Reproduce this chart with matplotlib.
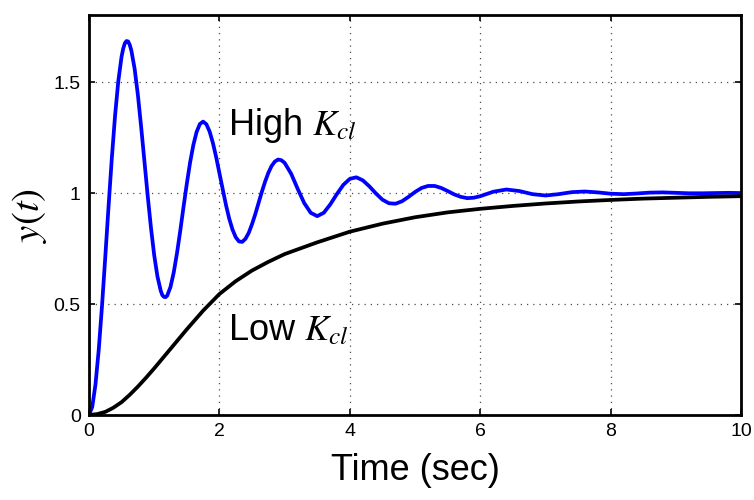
"""Step responses for high and low closed-loop gain K_cl."""
import matplotlib
matplotlib.use("Agg")
import matplotlib.pyplot as plt

plt.rcParams["font.family"] = ["Liberation Sans", "DejaVu Sans"]
plt.rcParams["mathtext.fontset"] = "stix"

# high-gain response (blue)
t_high = [0.00, 0.05, 0.10, 0.15, 0.20, 0.25, 0.30, 0.35, 0.40, 0.45,
          0.50, 0.525, 0.55, 0.575, 0.60, 0.625, 0.65, 0.70, 0.75, 0.80,
          0.85, 0.90, 0.95, 1.00, 1.05, 1.10, 1.125, 1.15, 1.175, 1.20,
          1.25, 1.30, 1.35, 1.40, 1.45,
          1.50, 1.55, 1.60, 1.65, 1.70, 1.75, 1.80, 1.85, 1.90, 1.95,
          2.00, 2.05, 2.10, 2.15, 2.20, 2.25, 2.30, 2.35, 2.40, 2.45,
          2.50, 2.55, 2.60, 2.65, 2.70, 2.75, 2.80, 2.85, 2.90, 2.95,
          3.00, 3.10, 3.20, 3.30, 3.40, 3.50, 3.60, 3.70, 3.80, 3.90,
          4.00, 4.10, 4.20, 4.30, 4.40, 4.50, 4.60, 4.70, 4.80, 4.90,
          5.00, 5.10, 5.20, 5.30, 5.40, 5.50, 5.60, 5.70, 5.80, 5.90,
          6.00, 6.20, 6.40, 6.60, 6.80, 7.00, 7.20, 7.40, 7.60, 7.80,
          8.00, 8.20, 8.40, 8.60, 8.80, 9.00, 9.20, 9.40, 9.60, 9.80,
          10.00]
y_high = [0.000, 0.036, 0.138, 0.295, 0.492, 0.712, 0.939, 1.156, 1.349, 1.505,
          1.615, 1.651, 1.675, 1.685, 1.683, 1.668, 1.642, 1.560, 1.442, 1.298,
          1.144, 0.989, 0.845, 0.720, 0.624, 0.560, 0.540, 0.532, 0.531, 0.538,
          0.577, 0.643, 0.730, 0.831, 0.938,
          1.042, 1.137, 1.216, 1.275, 1.311, 1.322, 1.310, 1.277, 1.226, 1.162,
          1.090, 1.018, 0.947, 0.885, 0.836, 0.801, 0.782, 0.780, 0.794, 0.821,
          0.860, 0.905, 0.955, 1.005, 1.051, 1.091, 1.122, 1.142, 1.151, 1.148,
          1.136, 1.087, 1.019, 0.955, 0.911, 0.896, 0.911, 0.949, 0.995, 1.037,
          1.064, 1.071, 1.057, 1.030, 0.998, 0.970, 0.954, 0.952, 0.963, 0.983,
          1.005, 1.023, 1.032, 1.032, 1.023, 1.009, 0.994, 0.983, 0.977, 0.979,
          0.986, 1.006, 1.016, 1.009, 0.995, 0.989, 0.995, 1.004, 1.007, 1.003,
          0.997, 0.995, 0.998, 1.002, 1.003, 1.001, 0.999, 0.999, 1.000, 1.001,
          1.000]

# low-gain response (black)
t_low = [0.000, 0.125, 0.25, 0.375, 0.50, 0.625, 0.75, 0.875, 1.00, 1.125,
         1.25, 1.375, 1.50, 1.75, 2.00, 2.25, 2.50, 2.75, 3.00, 3.50,
         4.00, 4.50, 5.00, 5.50, 6.00, 6.50, 7.00, 7.50, 8.00, 8.50,
         9.00, 9.50, 10.00]
y_low = [0.000, 0.004, 0.014, 0.033, 0.058, 0.091, 0.128, 0.168, 0.210, 0.254,
         0.298, 0.342, 0.386, 0.470, 0.545, 0.603, 0.651, 0.690, 0.725, 0.778,
         0.826, 0.862, 0.891, 0.913, 0.929, 0.942, 0.953, 0.962, 0.969, 0.975,
         0.979, 0.983, 0.986]

x_ticks = [0, 2, 4, 6, 8, 10]
y_ticks = [0, 0.5, 1, 1.5]
y_tick_labels = ["0", "0.5", "1", "1.5"]

fig = plt.figure(figsize=(7.54, 5.0), dpi=100)
ax = fig.add_axes([0.118, 0.17, 0.865, 0.799])

ax.plot(t_high, y_high, color="#0000ff", lw=2.7, solid_joinstyle="round")
ax.plot(t_low, y_low, color="black", lw=2.7, solid_joinstyle="round")

ax.set_xlim(0, 10)
ax.set_ylim(0, 1.8)
ax.set_xticks(x_ticks)
ax.set_yticks(y_ticks)
ax.set_yticklabels(y_tick_labels)
ax.tick_params(direction="in", length=4, width=1.2, labelsize=14,
               top=True, right=True, pad=6)
ax.grid(True, color="0.3", linestyle=(0, (1, 4)), linewidth=0.9)
for s in ax.spines.values():
    s.set_linewidth(2.0)

ax.set_xlabel("Time (sec)", fontsize=26)
ax.xaxis.set_label_coords(0.5, -0.095)
ax.set_ylabel("$y(t)$", fontsize=28)
ax.yaxis.set_label_coords(-0.062, 0.5)

ax.text(2.13, 1.26, "High $K_{cl}$", fontsize=26, va="baseline", ha="left")
ax.text(2.13, 0.335, "Low $K_{cl}$", fontsize=26, va="baseline", ha="left")

fig.savefig("out.png", dpi=100)
